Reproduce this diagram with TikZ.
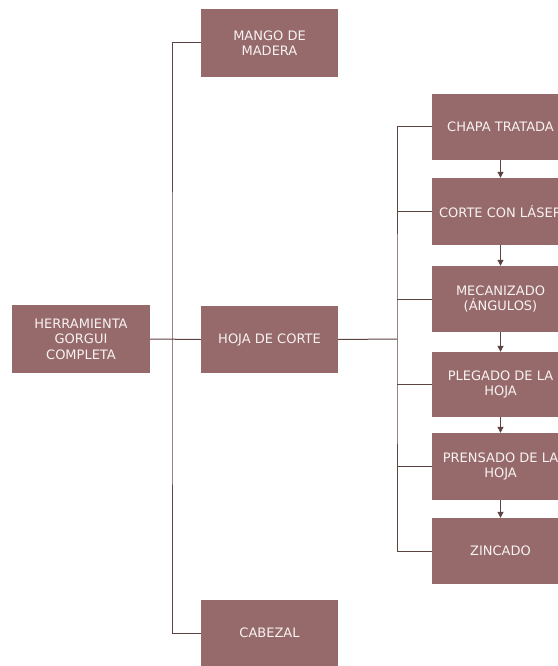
\documentclass[tikz,border=0pt]{standalone}
\usepackage{fontspec}
\setmainfont{DejaVu Sans}
\usetikzlibrary{arrows.meta}
\definecolor{boxfill}{RGB}{150,106,106}
\definecolor{linec}{RGB}{94,67,67}
\definecolor{txt}{RGB}{248,242,242}
\begin{document}
\begin{tikzpicture}[x=1pt,y=-1pt,
  box/.style={draw=none,fill=boxfill,text=txt,minimum width=137pt,minimum height=66pt,
    align=center,inner sep=0pt,font=\fontsize{13}{15.5}\selectfont},
  conn/.style={draw=linec,line width=1pt},
  arr/.style={draw=linec,line width=1pt,-{Triangle[width=6pt,length=6pt]},fill=linec}]
\useasboundingbox (0,0) rectangle (557,666);
\fill[white] (0,0) rectangle (557,666);
\node[box,minimum width=138pt,minimum height=68pt] (root) at (81,339) {HERRAMIENTA\\GORGUI\\COMPLETA};
\node[box,minimum height=68pt] (mango) at (269.5,43) {MANGO DE\\MADERA};
\node[box,minimum height=67pt] (hoja) at (269.5,339.5) {HOJA DE CORTE};
\node[box,minimum height=66pt] (cabezal) at (269.5,633) {CABEZAL};
\node[box] (chapa) at (500.5,127) {CHAPA TRATADA};
\node[box,minimum height=67pt] (corte) at (500.5,211.5) {CORTE CON LÁSER};
\node[box] (mec) at (500.5,299) {MECANIZADO\\(ÁNGULOS)};
\node[box,minimum height=65pt] (pleg) at (500.5,384.5) {PLEGADO DE LA\\HOJA};
\node[box,minimum height=67pt] (prens) at (500.5,466.5) {PRENSADO DE LA\\HOJA};
\node[box] (zinc) at (500.5,551) {ZINCADO};
\coordinate (j1) at (172,339);
\coordinate (j2) at (397,339);
\draw[conn] (mango.west) -| (j1) |- (cabezal.west);
\draw[conn] (root.east) -- (hoja.west);
\draw[conn] (chapa.west) -| (j2) |- (zinc.west);
\draw[conn] (hoja.east) -- (j2);
\draw[conn] (corte.west) -- (corte.west -| j2);
\draw[conn] (mec.west) -- (mec.west -| j2);
\draw[conn] (pleg.west) -- (pleg.west -| j2);
\draw[conn] (prens.west) -- (prens.west -| j2);
\draw[arr] (chapa.south) -- (corte.north);
\draw[arr] (corte.south) -- (mec.north);
\draw[arr] (mec.south) -- (pleg.north);
\draw[arr] (pleg.south) -- (prens.north);
\draw[arr] (prens.south) -- (zinc.north);
\end{tikzpicture}
\end{document}
